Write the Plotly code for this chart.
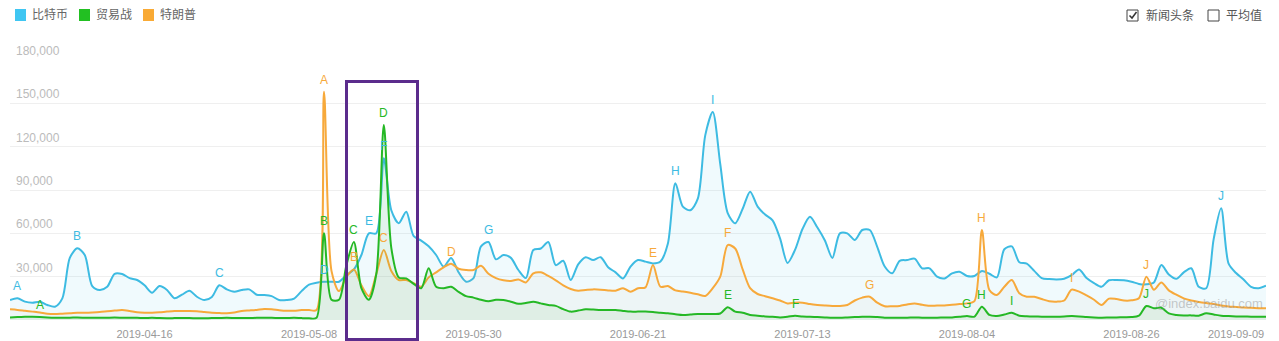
import pandas as pd
import plotly.graph_objects as go

# Daily search index, 2019-03-29 .. 2019-09-13
dates = pd.date_range("2019-03-29", "2019-09-13", freq="D")

bitcoin = [
    13800, 15000, 12700, 12000, 12700, 10400, 9200, 15000, 43000, 49600,
    45000, 23500, 20800, 23000, 32000, 31800, 29000, 27700, 24000, 18900,
    23500, 20800, 15000, 17500, 20300, 16100, 13800, 16000, 24000, 21200,
    19600, 20800, 21200, 17500, 17300, 16500, 13800, 13800, 14800, 20000,
    24500, 25800, 26500, 26500, 26500, 31000, 35000, 45000, 60000, 60000,
    112000, 76000, 67000, 75000, 58000, 55000, 51000, 45000, 37000, 43000,
    33000, 26500, 29000, 51000, 54000, 42000, 45000, 43000, 34600, 29000,
    48500, 49500, 54000, 38000, 41000, 27700, 38500, 43500, 41500, 43500,
    36500, 33000, 28800, 37000, 41500, 40400, 39200, 40500, 53000, 94600,
    78500, 76000, 84000, 128000, 144000, 108000, 74000, 67000, 77000, 88800,
    78500, 73000, 69000, 56500, 39500, 48500, 63000, 71500, 64000, 55000,
    43000, 60000, 60000, 55400, 62300, 62300, 50700, 37000, 32300, 41000,
    41500, 42500, 35800, 35800, 30000, 28800, 32300, 33400, 30500, 30500,
    34000, 32000, 29500, 49000, 51000, 40000, 39000, 34000, 29000, 28300,
    28000, 28500, 31000, 35000, 29000, 25500, 23000, 27500, 27700, 27500,
    26500, 25000, 24700, 26000, 38000, 31500, 28500, 33000, 35800, 23000,
    22000, 56000, 77300, 39000, 32500, 28000, 23000, 22000, 23700,
]

trade_war = [
    1800, 2000, 2200, 2300, 2100, 1800, 1600, 1600, 1600, 1700,
    1600, 1500, 1500, 1600, 1700, 1600, 1500, 1500, 1400, 1500,
    1300, 1200, 1300, 1400, 1300, 1200, 1200, 1300, 1400, 1500,
    1400, 1300, 1400, 1500, 1600, 1500, 1400, 1400, 1500, 1300,
    1200, 1500, 60000, 14000, 14000, 38000, 54000, 22000, 14000, 32000,
    135000, 50000, 29500, 28800, 25000, 22000, 35800, 23000, 22000, 23000,
    19500, 16500, 15500, 14000, 13000, 14000, 13800, 12700, 11200, 11800,
    12700, 11500, 10400, 9800, 7500, 5800, 6500, 7400, 7200, 6900,
    6900, 6900, 6300, 5800, 5800, 5800, 5500, 5000, 4600, 4000,
    3500, 3800, 4200, 4200, 4200, 4500, 8800, 5800, 5000, 3500,
    3000, 2500, 2200, 1800, 2200, 3000, 2400, 2300, 2000, 1800,
    1600, 1600, 1800, 2000, 2200, 2300, 2000, 1600, 1600, 1600,
    1600, 1700, 1600, 1600, 1600, 1700, 1800, 2200, 2800, 2300,
    9200, 3500, 2800, 3800, 5000, 3000, 2600, 2400, 2300, 2200,
    2200, 2400, 2700, 2500, 2100, 1800, 1600, 1700, 1800, 1900,
    2000, 3000, 9700, 8100, 8500, 4600, 3500, 3200, 3200, 3000,
    4600, 3800, 3000, 2700, 2500, 2400, 2300, 2200, 2300,
]

trump = [
    7400, 7000, 6400, 5800, 5200, 4400, 4200, 4400, 4600, 5000,
    5000, 5200, 5500, 6000, 6500, 6900, 6200, 5300, 5000, 5000,
    5300, 5800, 6200, 6200, 6200, 6000, 5500, 5000, 4800, 4600,
    5200, 6200, 6600, 7000, 7600, 7400, 6800, 6400, 6400, 6900,
    6900, 6900, 158000, 34000, 20000, 30000, 35000, 24000, 16500, 32000,
    48500, 34000, 27700, 27700, 25500, 23000, 29500, 33000, 36500, 39000,
    35500, 34600, 34600, 37500, 32000, 29000, 27500, 27000, 28000, 26000,
    32300, 33000, 30500, 27500, 24000, 21500, 20300, 20800, 21200, 21000,
    20500, 20300, 22000, 19600, 22000, 22600, 38000, 23000, 23500, 20500,
    19800, 18900, 17800, 16600, 22000, 30000, 51900, 49500, 35000, 22000,
    18000, 16500, 15000, 13500, 11500, 12000, 12000, 11000, 10400, 10000,
    9700, 9700, 10400, 13500, 15500, 16100, 12000, 9500, 9500, 9700,
    10800, 11500, 10500, 9800, 10000, 10000, 10500, 11000, 11500, 13000,
    62300, 20800, 17300, 23000, 27700, 18500, 16100, 16100, 14500, 13000,
    12700, 13500, 21000, 19600, 17000, 14000, 10400, 14800, 14500, 13500,
    13600, 15000, 30000, 21000, 26000, 20500, 17500, 15000, 13500, 12500,
    11700, 11000, 10000, 9300, 9000, 8600, 8400, 8200, 8100,
]

# News-headline markers (A..J) per series, as day indices into `dates`
mark_letters = list("ABCDEFGHIJ")
bitcoin_marks = [1, 9, 28, 42, 48, 50, 64, 89, 94, 162]
trump_marks = [42, 46, 50, 59, 86, 96, 115, 130, 142, 152]
trade_war_marks = [4, 42, 46, 50, 96, 105, 128, 130, 134, 152]

x_ticks = ["2019-04-16", "2019-05-08", "2019-05-30", "2019-06-21",
           "2019-07-13", "2019-08-04", "2019-08-26", "2019-09-09"]
y_ticks = [30000, 60000, 90000, 120000, 150000, 180000]

BLUE = "#3dbbe2"
GREEN = "#25b825"
ORANGE = "#f7a93b"

W, H = 1279, 341
ML, MR, MT, MB = 10, 13, 60, 21


def px(x):
    return (x - ML) / (W - ML - MR)


def py(y):
    return (H - MB - y) / (H - MT - MB)


fig = go.Figure()

series = [
    ("比特币", bitcoin, BLUE, "rgba(62,190,230,0.08)", bitcoin_marks),
    ("特朗普", trump, ORANGE, "rgba(200,190,160,0.07)", trump_marks),
    ("贸易战", trade_war, GREEN, "rgba(60,170,40,0.08)", trade_war_marks),
]

for name, vals, color, fill, _ in series:
    fig.add_trace(go.Scatter(
        x=dates, y=vals, name=name, mode="lines",
        line=dict(color=color, width=2, shape="spline", smoothing=0.8),
        fill="tozeroy", fillcolor=fill, showlegend=False, cliponaxis=False,
    ))

annotations = []
for name, vals, color, fill, marks in series:
    for letter, i in zip(mark_letters, marks):
        annotations.append(dict(
            x=dates[i], y=vals[i], text=letter, showarrow=False,
            yanchor="bottom", yshift=3,
            font=dict(color=color, size=12, family="Liberation Sans, Arial"),
        ))

# y-axis value labels sit just above their grid lines
for v in y_ticks:
    annotations.append(dict(
        xref="paper", yref="y", x=px(14), y=v, text=f"{v:,}",
        xanchor="left", yanchor="bottom", yshift=0, showarrow=False,
        font=dict(color="#bbb", size=12, family="Liberation Sans, Arial"),
    ))

shapes = []

# legend
legend_items = [("比特币", "#3fc6f2", 15), ("贸易战", "#22c022", 79), ("特朗普", "#f9aa35", 143)]
for text, color, x0 in legend_items:
    shapes.append(dict(type="rect", xref="paper", yref="paper",
                       x0=px(x0), x1=px(x0 + 11), y0=py(21), y1=py(9),
                       fillcolor=color, line=dict(width=0)))
    annotations.append(dict(xref="paper", yref="paper", x=px(x0 + 15), y=py(15),
                            xanchor="left", yanchor="middle", showarrow=False,
                            text=text, font=dict(color="#666", size=12)))

# checkboxes
for x0 in (1127, 1208):
    shapes.append(dict(type="rect", xref="paper", yref="paper",
                       x0=px(x0), x1=px(x0 + 11), y0=py(21), y1=py(10),
                       line=dict(color="#444", width=1), fillcolor="white"))
check = [(1129.5, 15.5), (1132, 18), (1136.5, 12)]
path = "M " + " L ".join(f"{px(a):.5f},{py(b):.5f}" for a, b in check)
shapes.append(dict(type="path", xref="paper", yref="paper", path=path,
                   line=dict(color="#333", width=1.5)))
annotations.append(dict(xref="paper", yref="paper", x=px(1144), y=py(15.5),
                        xanchor="left", yanchor="middle", showarrow=False,
                        text="新闻头条", font=dict(color="#555", size=12)))
annotations.append(dict(xref="paper", yref="paper", x=px(1224), y=py(15.5),
                        xanchor="left", yanchor="middle", showarrow=False,
                        text="平均值", font=dict(color="#555", size=12)))

# highlight frame around mid-May
shapes.append(dict(type="rect", xref="paper", yref="paper",
                   x0=px(346.5), x1=px(417.5), y0=py(339.5), y1=py(81.5),
                   line=dict(color="#5b2c8c", width=3)))

# watermark
annotations.append(dict(xref="paper", yref="paper", x=px(1265), y=py(303),
                        xanchor="right", yanchor="middle", showarrow=False,
                        text="@index.baidu.com",
                        font=dict(color="rgba(150,150,150,0.5)", size=13,
                                  family="Liberation Sans, Arial")))

fig.update_layout(
    width=W, height=H,
    margin=dict(l=ML, r=MR, t=MT, b=MB, autoexpand=False),
    paper_bgcolor="white", plot_bgcolor="white",
    font=dict(family="Liberation Sans, Noto Sans CJK SC", size=12),
    shapes=shapes, annotations=annotations,
    showlegend=False,
)
fig.update_xaxes(
    range=[dates[0], dates[-1]], tickvals=x_ticks, ticktext=x_ticks,
    showgrid=False, zeroline=False, showline=False, ticks="",
    ticklabelstandoff=6, automargin=False,
    tickfont=dict(color="#999", size=11),
)
fig.update_yaxes(
    range=[0, 180000], tickvals=y_ticks, showticklabels=False,
    showgrid=True, gridcolor="#efefef", gridwidth=1,
    zeroline=False, showline=False, ticks="", automargin=False,
)

fig.write_html("out.html")
